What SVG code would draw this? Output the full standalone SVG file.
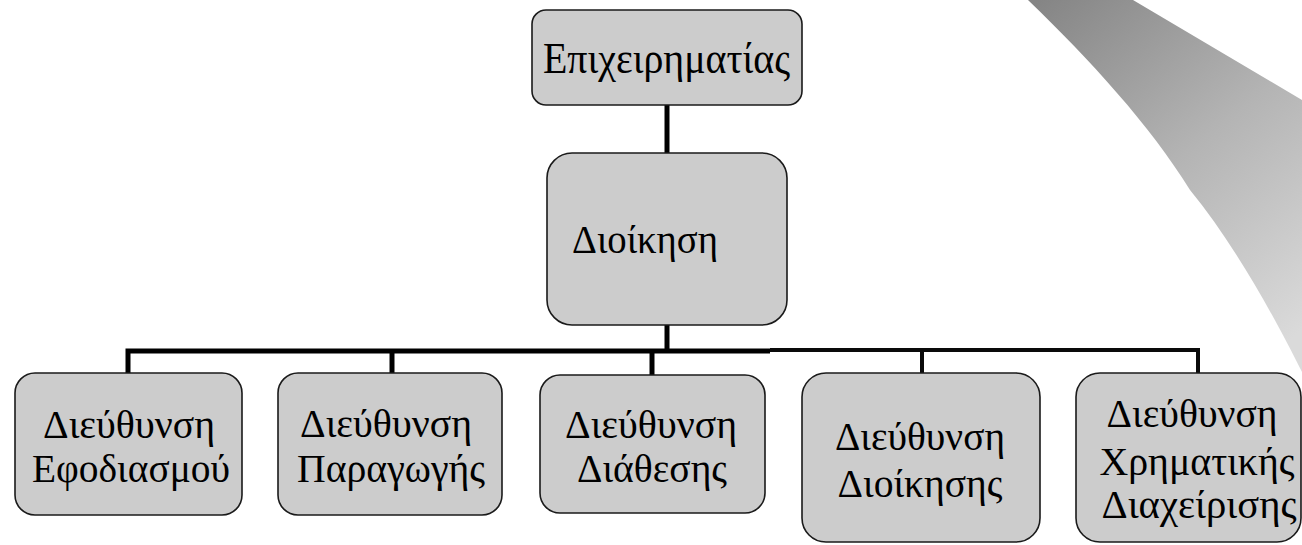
<svg xmlns="http://www.w3.org/2000/svg" width="1302" height="545" viewBox="0 0 1302 545">
<defs>
<linearGradient id="curl" x1="1040" y1="0" x2="1302" y2="330" gradientUnits="userSpaceOnUse">
<stop offset="0" stop-color="#858585"/>
<stop offset="0.5" stop-color="#b4b4b4"/>
<stop offset="1" stop-color="#dadada"/>
</linearGradient>
<style>
.box{fill:#cccccc;stroke:#1a1a1a;stroke-width:1.6}
.t{font-family:"Liberation Serif","DejaVu Serif",serif;font-size:40px;fill:#000;text-anchor:middle}
.ln{stroke:#000;fill:none;stroke-width:5}
.ln2{stroke:#0a0a0a;fill:none;stroke-width:4}
</style>
</defs>
<rect width="1302" height="545" fill="#ffffff"/>
<path id="page-curl" d="M1028,0 L1133,0 L1302,100 L1302,372 C1275,318 1235,245 1190,190 C1150,125 1090,60 1028,0 Z" fill="url(#curl)"/>
<g id="connectors">
<line class="ln" x1="667" y1="105" x2="667" y2="153"/>
<line class="ln" x1="667" y1="325" x2="667" y2="351"/>
<polyline class="ln" points="128,373 128,351 770,351"/>
<line class="ln" x1="392" y1="351" x2="392" y2="373"/>
<line class="ln" x1="652" y1="351" x2="652" y2="375"/>
<polyline class="ln2" points="770,350 1198,350 1198,373"/>
<line class="ln2" x1="922" y1="350" x2="922" y2="373"/>
</g>
<g id="node-epixeirimatias">
<rect class="box" x="532" y="10" width="270" height="95" rx="14"/>
<text class="t" x="666.5" y="73" style="font-size:44px" textLength="247" lengthAdjust="spacingAndGlyphs">Επιχειρηματίας</text>
</g>
<g id="node-dioikisi">
<rect class="box" x="547" y="153" width="240" height="172" rx="25"/>
<text class="t" x="645" y="253" style="font-size:39px" textLength="146" lengthAdjust="spacingAndGlyphs">Διοίκηση</text>
</g>
<g id="node-efodiasmou">
<rect class="box" x="15" y="373" width="227" height="142" rx="20"/>
<text class="t" x="129" y="438" textLength="172" lengthAdjust="spacingAndGlyphs">Διεύθυνση</text>
<text class="t" x="131" y="482" textLength="198" lengthAdjust="spacingAndGlyphs">Εφοδιασμού</text>
</g>
<g id="node-paragogis">
<rect class="box" x="278" y="373" width="224" height="142" rx="20"/>
<text class="t" x="386" y="437" textLength="172" lengthAdjust="spacingAndGlyphs">Διεύθυνση</text>
<text class="t" x="391" y="482" textLength="188" lengthAdjust="spacingAndGlyphs">Παραγωγής</text>
</g>
<g id="node-diathesis">
<rect class="box" x="540" y="375" width="225" height="138" rx="20"/>
<text class="t" x="651" y="438" textLength="172" lengthAdjust="spacingAndGlyphs">Διεύθυνση</text>
<text class="t" x="652" y="482" textLength="150" lengthAdjust="spacingAndGlyphs">Διάθεσης</text>
</g>
<g id="node-dioikisis">
<rect class="box" x="802" y="373" width="238" height="169" rx="24"/>
<text class="t" x="920" y="450" textLength="170" lengthAdjust="spacingAndGlyphs">Διεύθυνση</text>
<text class="t" x="920" y="497" textLength="165" lengthAdjust="spacingAndGlyphs">Διοίκησης</text>
</g>
<g id="node-xrimatikis">
<rect class="box" x="1076" y="373" width="225" height="169" rx="24"/>
<text class="t" x="1192" y="427" textLength="171" lengthAdjust="spacingAndGlyphs">Διεύθυνση</text>
<text class="t" x="1197" y="475" textLength="195" lengthAdjust="spacingAndGlyphs">Χρηματικής</text>
<text class="t" x="1199" y="518" textLength="195" lengthAdjust="spacingAndGlyphs">Διαχείρισης</text>
</g>
</svg>
